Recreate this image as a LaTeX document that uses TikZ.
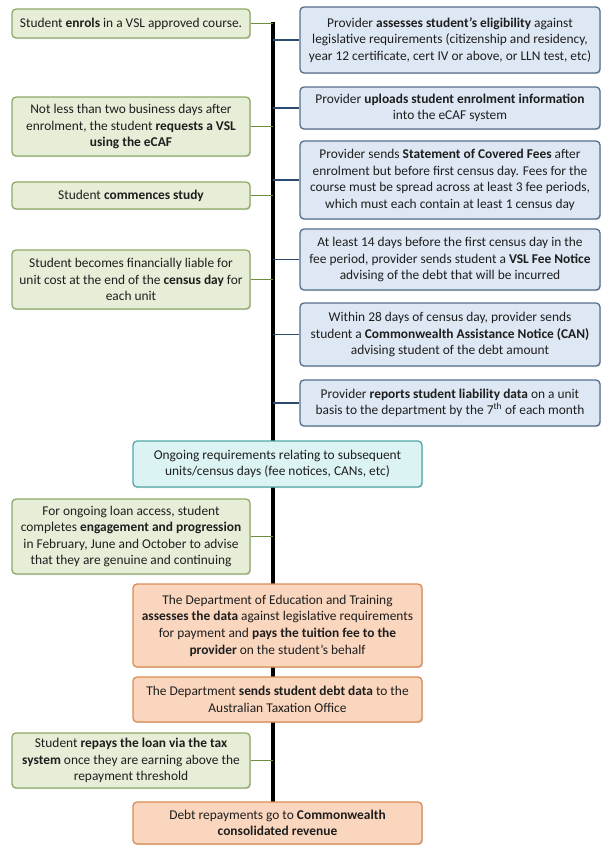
\documentclass[tikz,border=0pt]{standalone}
\usepackage{fontspec}
\setmainfont{Carlito}
\usetikzlibrary{shadows}
\definecolor{gfill}{HTML}{E6EED8}
\definecolor{gline}{HTML}{8FAA68}
\definecolor{gconncol}{HTML}{6E8C3A}
\definecolor{bfill}{HTML}{DEE8F4}
\definecolor{bline}{HTML}{566F8E}
\definecolor{bconncol}{HTML}{2B4A6F}
\definecolor{cfill}{HTML}{DCF3F3}
\definecolor{cline}{HTML}{4FA9A9}
\definecolor{ofill}{HTML}{FAD6BE}
\definecolor{oline}{HTML}{D98C55}
\definecolor{txt}{HTML}{1E1E1E}
\tikzset{
  boxbase/.style={rounded corners=4bp, line width=1.3bp, align=center, inner sep=1bp,
    text=txt, font=\fontsize{13.4bp}{16.6bp}\selectfont,
    drop shadow={shadow xshift=1bp, shadow yshift=-1.2bp, opacity=0.25}},
  gbox/.style={boxbase, draw=gline, fill=gfill, minimum width=238bp},
  bbox/.style={boxbase, draw=bline, fill=bfill, minimum width=300bp},
  cbox/.style={boxbase, draw=cline, fill=cfill, minimum width=289bp},
  obox/.style={boxbase, draw=oline, fill=ofill, minimum width=289bp},
  gconn/.style={draw=gconncol, line width=1.8bp},
  bconn/.style={draw=bconncol, line width=1.8bp},
  spine/.style={draw=black, line width=4bp}
}
\begin{document}
\begin{tikzpicture}[x=1bp, y=-1bp]
\useasboundingbox (0,0) rectangle (603,850);
\fill[white] (0,0) rectangle (603,850);
\coordinate (spinetop) at (272.5,22);
\coordinate (spinebot) at (272.5,802);
\draw[spine] (spinetop) -- (spinebot);

% green (student) boxes
\node[gbox, minimum height=29bp] (g1) at (131,23.5) {Student \textbf{enrols} in a VSL approved course.};
\node[gbox, minimum height=59bp] (g2) at (131,126.5) {Not less than two business days after\\enrolment, the student \textbf{requests a VSL}\\\textbf{using the eCAF}};
\node[gbox, minimum height=27bp] (g3) at (131,195.5) {Student \textbf{commences study}};
\node[gbox, minimum height=59bp] (g4) at (131,279.5) {Student becomes financially liable for\\unit cost at the end of the \textbf{census day} for\\each unit};
\node[gbox, minimum height=75bp] (g5) at (131,536.5) {For ongoing loan access, student\\completes \textbf{engagement and progression}\\in February, June and October to advise\\that they are genuine and continuing};
\node[gbox, minimum height=55bp] (g6) at (131,760.5) {Student \textbf{repays the loan via the tax}\\\textbf{system} once they are earning above the\\repayment threshold};

% blue (provider) boxes
\node[bbox, minimum height=66bp] (b1) at (450,40) {Provider \textbf{assesses student’s eligibility} against\\legislative requirements (citizenship and residency,\\year 12 certificate, cert IV or above, or LLN test, etc)};
\node[bbox, minimum height=42bp] (b2) at (450,108) {Provider \textbf{uploads student enrolment information}\\into the eCAF system};
\node[bbox, minimum height=78bp] (b3) at (450,180) {Provider sends \textbf{Statement of Covered Fees} after\\enrolment but before first census day. Fees for the\\course must be spread across at least 3 fee periods,\\which must each contain at least 1 census day};
\node[bbox, minimum height=61bp] (b4) at (450,259.5) {At least 14 days before the first census day in the\\fee period, provider sends student a \textbf{VSL Fee Notice}\\advising of the debt that will be incurred};
\node[bbox, minimum height=63bp] (b5) at (450,334.5) {Within 28 days of census day, provider sends\\student a \textbf{Commonwealth Assistance Notice (CAN)}\\advising student of the debt amount};
\node[bbox, minimum height=46bp] (b6) at (450,403) {Provider \textbf{reports student liability data} on a unit\\basis to the department by the 7\textsuperscript{th} of each month};

% centre boxes
\node[cbox, minimum height=46bp] (c1) at (277.5,464) {Ongoing requirements relating to subsequent\\units/census days (fee notices, CANs, etc)};
\node[obox, minimum height=83bp] (o1) at (277.5,625.5) {The Department of Education and Training\\\textbf{assesses the data} against legislative requirements\\for payment and \textbf{pays the tuition fee to the}\\\textbf{provider} on the student’s behalf};
\node[obox, minimum height=45bp] (o2) at (277.5,699.5) {The Department \textbf{sends student debt data} to the\\Australian Taxation Office};
\node[obox, minimum height=42bp] (o3) at (277.5,823) {Debt repayments go to \textbf{Commonwealth}\\\textbf{consolidated revenue}};

% connectors
\foreach \n in {g1,g2,g3,g4,g5,g6} \draw[gconn] (\n.east) -- (\n.east -| spinetop);
\foreach \n in {b1,b2,b3,b4,b5,b6} \draw[bconn] (\n.west) -- (\n.west -| spinetop);
\end{tikzpicture}
\end{document}
